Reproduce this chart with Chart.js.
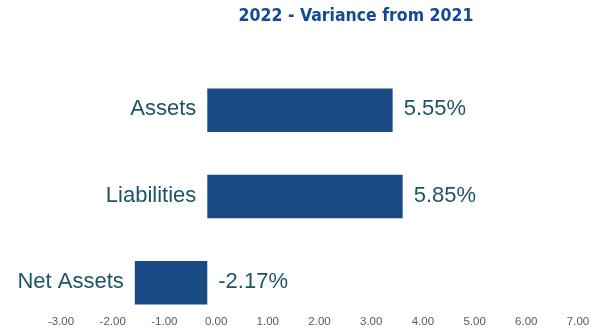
<!DOCTYPE html>
<html>
<head>
<meta charset="utf-8">
<script src="https://cdn.jsdelivr.net/npm/chart.js@4/dist/chart.umd.min.js"></script>
<style>
  html, body { margin: 0; padding: 0; background: #fff; }
  #wrap { width: 597px; height: 329px; position: relative; }
</style>
</head>
<body>
<div id="wrap"><canvas id="variance-chart"></canvas></div>
<script>
const categories = ['Assets', 'Liabilities', 'Net Assets'];
const variance = [5.55, 5.85, -2.17];
const titleText = '2022 - Variance from 2021';

// scale shown under the bars
const tickMin = -3;
const tickMax = 7;
const tickStep = 1;

const barColor = '#1a4a84';
const labelColor = '#1d5466';

// category names left of each bar, percentages right of it
const barLabels = {
    id: 'barLabels',
    afterDatasetsDraw(chart) {
        const ctx = chart.ctx;
        const xScale = chart.scales.x;
        const yScale = chart.scales.y;
        ctx.save();
        ctx.fillStyle = labelColor;
        ctx.font = '22px "Liberation Sans", Arial, sans-serif';
        ctx.textBaseline = 'middle';
        variance.forEach((v, i) => {
            const y = yScale.getPixelForValue(i) - 1;
            ctx.textAlign = 'right';
            ctx.fillText(categories[i], xScale.getPixelForValue(Math.min(0, v)) - 11, y);
            ctx.textAlign = 'left';
            ctx.fillText(v.toFixed(2) + '%', xScale.getPixelForValue(Math.max(0, v)) + 11, y);
        });

        ctx.fillStyle = '#134a94';
        ctx.font = 'bold 17.5px "Liberation Sans Narrow", "DejaVu Sans Condensed", sans-serif';
        ctx.textAlign = 'center';
        ctx.fillText(titleText, 356, 16);
        ctx.restore();
    }
};

const ctx = document.getElementById('variance-chart').getContext('2d');
new Chart(ctx, {
    type: 'bar',
    data: {
        labels: categories,
        datasets: [{
            data: variance,
            backgroundColor: barColor,
            borderWidth: 0,
            categoryPercentage: 1,
            barPercentage: 0.503
        }]
    },
    options: {
        indexAxis: 'y',
        responsive: true,
        maintainAspectRatio: false,
        animation: false,
        layout: {
            padding: { left: 61, right: 19, top: 67, bottom: 3 }
        },
        plugins: {
            legend: { display: false },
            title: { display: false },
            tooltip: { enabled: false }
        },
        scales: {
            x: {
                display: false,
                min: -4.38,
                max: 11.10
            },
            y: {
                display: false
            },
            xTicks: {
                type: 'linear',
                axis: 'x',
                position: { y: 2.35 },
                min: tickMin,
                max: tickMax,
                grid: { display: false, drawTicks: false },
                border: { display: false },
                ticks: {
                    stepSize: tickStep,
                    padding: 2,
                    color: '#595959',
                    font: { family: '"Liberation Sans", Arial, sans-serif', size: 11.5 },
                    maxRotation: 0,
                    autoSkip: false,
                    callback: v => v.toFixed(2)
                }
            }
        }
    },
    plugins: [barLabels]
});
</script>
</body>
</html>
